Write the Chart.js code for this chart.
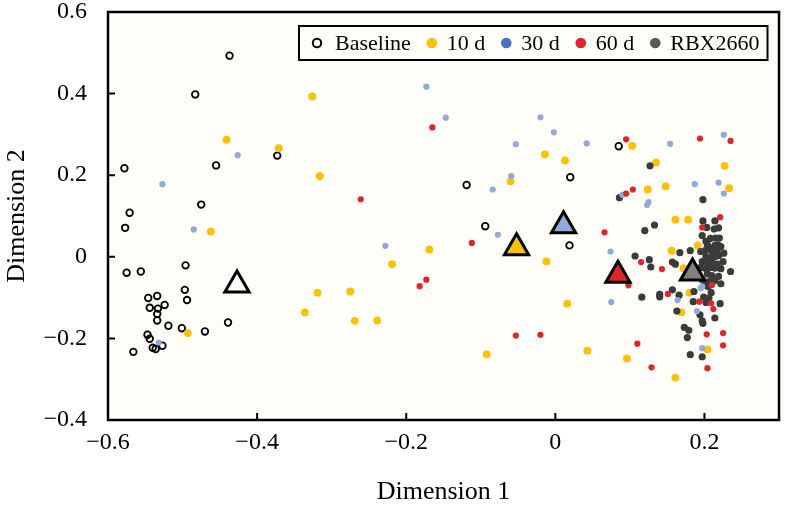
<!DOCTYPE html>
<html lang="en">
<head>
<meta charset="UTF-8">
<title>Dimension 1 / Dimension 2</title>
<script src="https://cdn.jsdelivr.net/npm/chart.js"></script>
<style>
  html, body { margin: 0; padding: 0; background: #fff; }
  #wrap { width: 785px; height: 508px; }
</style>
</head>
<body>
<div id="wrap"><canvas id="myChart" width="785" height="508"></canvas></div>
<script>
// group names (legend order)
const groups = ['Baseline', '10 d', '30 d', '60 d', 'RBX2660'];

// [dimension 1, dimension 2] per sample
const baseline = [
  [-0.437, 0.493], [-0.483, 0.398], [-0.373, 0.248], [-0.455, 0.224], [-0.578, 0.217],
  [-0.475, 0.128], [-0.571, 0.108], [-0.577, 0.071], [-0.496, -0.021], [-0.575, -0.039],
  [-0.556, -0.036], [-0.497, -0.081], [-0.546, -0.101], [-0.534, -0.096], [-0.494, -0.106],
  [-0.544, -0.125], [-0.533, -0.127], [-0.524, -0.118], [-0.534, -0.140], [-0.534, -0.156],
  [-0.519, -0.169], [-0.501, -0.175], [-0.439, -0.161], [-0.470, -0.183], [-0.547, -0.191],
  [-0.544, -0.201], [-0.540, -0.223], [-0.536, -0.226], [-0.527, -0.218], [-0.566, -0.233],
  [-0.119, 0.176], [0.085, 0.271], [0.020, 0.195], [-0.094, 0.075], [0.019, 0.028]
];
const day10 = [
  [-0.441, 0.287], [-0.371, 0.266], [-0.462, 0.062], [-0.493, -0.187], [-0.326, 0.393],
  [-0.316, 0.198], [-0.169, 0.018], [-0.219, -0.018], [-0.319, -0.088], [-0.275, -0.085],
  [-0.336, -0.136], [-0.269, -0.157], [-0.239, -0.156], [-0.014, 0.251], [0.013, 0.236],
  [-0.060, 0.185], [-0.012, -0.011], [0.016, -0.115], [-0.092, -0.239], [0.043, -0.230],
  [0.096, -0.249], [0.103, 0.272], [0.135, 0.231], [0.227, 0.223], [0.124, 0.165],
  [0.148, 0.173], [0.233, 0.168], [0.161, 0.091], [0.178, 0.091], [0.156, 0.015],
  [0.191, 0.028], [0.172, -0.028], [0.180, -0.088], [0.169, -0.136], [0.204, -0.227],
  [0.161, -0.296]
];
const day30 = [
  [-0.426, 0.249], [-0.527, 0.178], [-0.485, 0.067], [-0.532, -0.210], [-0.173, 0.417],
  [-0.147, 0.341], [-0.228, 0.027], [-0.020, 0.342], [-0.002, 0.305], [-0.053, 0.276],
  [0.042, 0.278], [-0.059, 0.198], [-0.084, 0.165], [-0.077, 0.054], [0.074, 0.013],
  [0.075, -0.111], [0.154, 0.277], [0.226, 0.299], [0.187, 0.178], [0.219, 0.182],
  [0.226, 0.155], [0.125, 0.134], [0.123, 0.127], [0.195, -0.077], [0.164, -0.106],
  [0.190, -0.133], [0.197, -0.224], [0.197, -0.073], [0.090, 0.152]
];
const day60 = [
  [-0.165, 0.317], [-0.261, 0.141], [-0.112, 0.034], [-0.173, -0.056], [-0.182, -0.072],
  [0.095, 0.288], [0.104, 0.165], [0.095, 0.155], [0.066, 0.060], [0.098, -0.070],
  [-0.053, -0.193], [-0.020, -0.191], [0.110, -0.213], [0.194, 0.290], [0.235, 0.284],
  [0.221, 0.097], [0.197, 0.072], [0.115, -0.013], [0.143, -0.030], [0.151, -0.091],
  [0.193, -0.110], [0.209, -0.114], [0.212, -0.128], [0.203, -0.190], [0.225, -0.187],
  [0.225, -0.217], [0.129, -0.271], [0.204, -0.273], [0.210, -0.069]
];
const rbx = [
  [0.086, 0.145], [0.107, 0.002], [0.127, 0.223], [0.198, 0.140], [0.133, 0.078],
  [0.120, 0.064], [0.198, 0.088], [0.214, 0.088], [0.203, 0.072], [0.213, 0.068],
  [0.219, 0.071], [0.208, 0.045], [0.215, 0.046], [0.220, 0.046], [0.197, 0.052],
  [0.202, 0.038], [0.204, 0.029], [0.210, 0.021], [0.214, 0.028], [0.218, 0.029],
  [0.222, 0.025], [0.210, 0.013], [0.217, 0.015], [0.181, 0.015], [0.167, 0.010],
  [0.202, 0.001], [0.208, -0.003], [0.215, 0.001], [0.219, 0.003], [0.197, -0.012],
  [0.204, -0.015], [0.210, -0.012], [0.217, -0.018], [0.225, -0.012], [0.195, -0.026],
  [0.202, -0.029], [0.208, -0.026], [0.214, -0.028], [0.222, -0.029], [0.235, -0.036],
  [0.204, -0.042], [0.210, -0.046], [0.219, -0.048], [0.197, -0.056], [0.206, -0.061],
  [0.214, -0.059], [0.222, -0.066], [0.201, -0.070], [0.126, -0.007], [0.128, -0.025],
  [0.157, -0.013], [0.161, -0.018], [0.157, -0.081], [0.140, -0.092], [0.140, -0.098],
  [0.116, -0.099], [0.166, -0.094], [0.186, -0.085], [0.205, -0.073], [0.209, -0.088],
  [0.206, -0.101], [0.199, -0.099], [0.202, -0.112], [0.185, -0.110], [0.221, -0.115],
  [0.163, -0.133], [0.194, -0.142], [0.197, -0.157], [0.198, -0.163], [0.214, -0.150],
  [0.173, -0.173], [0.179, -0.180], [0.177, -0.198], [0.181, -0.240], [0.197, -0.245],
  [0.226, 0.009], [0.202, 0.017], [0.195, 0.013]
];

// group centroids (big triangles), same order as groups
const centroidX = [-0.427, -0.052, 0.011, 0.084, 0.184];
const centroidY = [-0.069, 0.022, 0.076, -0.045, -0.040];

const xTicks = [-0.6, -0.4, -0.2, 0, 0.2];
const yTicks = [-0.4, -0.2, 0, 0.2, 0.4, 0.6];

const pointColors = ['#000000', '#FFC000', '#8FAADC', '#E4222A', '#3B3B3B'];
const legendColors = ['#000000', '#FFC000', '#4472C4', '#E4222A', '#595959'];
const triangleFill = ['#FFFFFF', '#FFC000', '#8FAADC', '#E0242A', '#7F7F7F'];

const toPts = arr => arr.map(p => ({ x: p[0], y: p[1] }));
const fmt = v => {
  if (Math.abs(v) < 1e-9) return '0';
  return (v < 0 ? '\u2212' : '') + Math.abs(v).toFixed(1);
};

Chart.defaults.font.family = '"Liberation Serif", "Times New Roman", serif';
Chart.defaults.color = '#000';

const bg = '#FFFEF8';

// cream plot background, box frame and inward tick marks
const framePlugin = {
  id: 'frame',
  beforeDraw(chart) {
    const { ctx, chartArea: a } = chart;
    ctx.save();
    ctx.fillStyle = bg;
    ctx.fillRect(a.left, a.top, a.right - a.left, a.bottom - a.top);
    ctx.restore();
  },
  beforeDatasetsDraw(chart) {
    const { ctx, chartArea: a, scales } = chart;
    ctx.save();
    ctx.strokeStyle = '#000';
    ctx.lineWidth = 2;
    ctx.beginPath();
    xTicks.forEach(v => {
      const px = scales.x.getPixelForValue(v);
      ctx.moveTo(px, a.bottom);
      ctx.lineTo(px, a.bottom - 7);
    });
    yTicks.forEach(v => {
      const py = scales.y.getPixelForValue(v);
      ctx.moveTo(a.left, py);
      ctx.lineTo(a.left + 7, py);
    });
    ctx.stroke();
    ctx.lineWidth = 2.5;
    ctx.strokeRect(a.left, a.top, a.right - a.left, a.bottom - a.top);
    ctx.restore();
  }
};

// boxed legend inside the plot, top right
const legendPlugin = {
  id: 'boxLegend',
  afterDraw(chart) {
    const ctx = chart.ctx;
    const left = 299, top = 26, h = 34;
    const cy = top + h / 2;
    ctx.save();
    ctx.font = '22px "Liberation Serif", serif';
    let x = left + 18;
    const items = groups.map((g, i) => {
      const w = ctx.measureText(g).width;
      const it = { mx: x, tx: x + (i === 0 ? 18 : 15), w };
      x = it.tx + w + 21;
      return it;
    });
    const last = items[items.length - 1];
    const right = last.tx + last.w + 8;
    ctx.fillStyle = bg;
    ctx.fillRect(left, top, right - left, h);
    ctx.lineWidth = 2;
    ctx.strokeStyle = '#000';
    ctx.strokeRect(left, top, right - left, h);
    items.forEach((it, i) => {
      ctx.beginPath();
      if (i === 0) {
        ctx.arc(it.mx, cy, 4.2, 0, Math.PI * 2);
        ctx.lineWidth = 2;
        ctx.strokeStyle = '#000';
        ctx.stroke();
      } else {
        ctx.arc(it.mx, cy, 5.3, 0, Math.PI * 2);
        ctx.fillStyle = legendColors[i];
        ctx.fill();
      }
      ctx.fillStyle = '#000';
      ctx.textBaseline = 'middle';
      ctx.textAlign = 'left';
      ctx.fillText(groups[i], it.tx, cy + 1);
    });
    ctx.restore();
  }
};

const sets = [baseline, day10, day30, day60, rbx];
const radii = [3.3, 3.9, 3.1, 3.1, 3.6];
const orders = [6, 5, 3, 2, 4];

const datasets = sets.map((s, i) => ({
  label: groups[i],
  data: toPts(s),
  pointStyle: 'circle',
  pointRadius: radii[i],
  pointBackgroundColor: i === 0 ? 'rgba(0,0,0,0)' : pointColors[i],
  pointBorderColor: pointColors[i],
  pointBorderWidth: i === 0 ? 1.8 : 0,
  order: orders[i]
}));

datasets.push({
  label: 'Centroids',
  data: centroidX.map((x, i) => ({ x: x, y: centroidY[i] })),
  pointStyle: 'triangle',
  pointRadius: 14,
  pointBackgroundColor: triangleFill,
  pointBorderColor: '#000',
  pointBorderWidth: 3,
  order: 0
});

// keep the plot box fixed: no extra room for overhanging labels
const noPad = s => { s.paddingTop = 0; s.paddingBottom = 0; s.paddingLeft = 0; s.paddingRight = 0; };

const ctx = document.getElementById('myChart').getContext('2d');
const myChart = new Chart(ctx, {
  type: 'scatter',
  data: { datasets: datasets },
  options: {
    responsive: false,
    animation: false,
    events: [],
    layout: { autoPadding: false, padding: { left: 0, top: 12, right: 6, bottom: 0 } },
    plugins: { legend: { display: false }, tooltip: { enabled: false } },
    scales: {
      x: {
        type: 'linear',
        min: -0.6,
        max: 0.3,
        grid: { display: false },
        border: { display: false },
        afterBuildTicks: s => { s.ticks = xTicks.map(v => ({ value: v })); },
        afterFit: s => { s.height = 88; noPad(s); },
        ticks: { padding: 0, color: '#000', font: { size: 24 }, maxRotation: 0, autoSkip: false, callback: fmt },
        title: { display: true, text: 'Dimension 1', color: '#000', font: { size: 26 }, padding: { top: 0, bottom: 0 } }
      },
      y: {
        type: 'linear',
        min: -0.4,
        max: 0.6,
        grid: { display: false },
        border: { display: false },
        afterBuildTicks: s => { s.ticks = yTicks.map(v => ({ value: v })); },
        afterFit: s => { s.width = 108; noPad(s); },
        ticks: { padding: 13, color: '#000', font: { size: 24 }, autoSkip: false, callback: fmt },
        title: { display: true, text: 'Dimension 2', color: '#000', font: { size: 26 }, padding: { top: 2, bottom: 0 } }
      }
    }
  },
  plugins: [framePlugin, legendPlugin]
});
</script>
</body>
</html>
